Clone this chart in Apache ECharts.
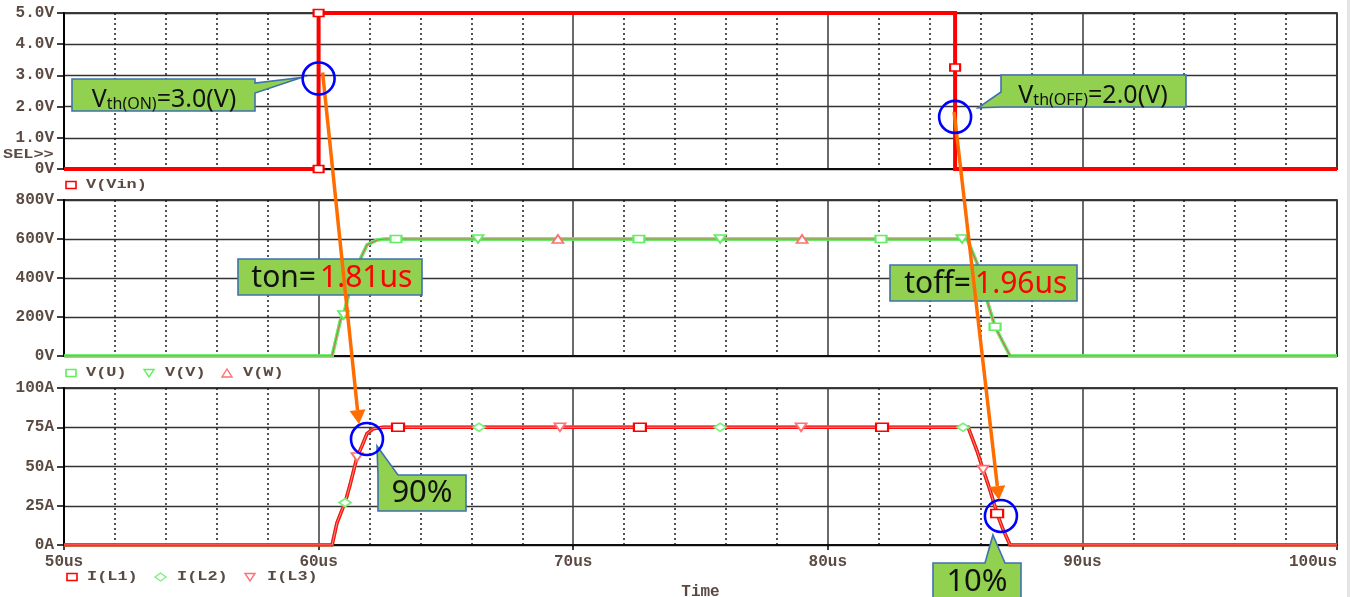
<!DOCTYPE html>
<html>
<head>
<meta charset="utf-8">
<script src="https://cdn.jsdelivr.net/npm/echarts@6/dist/echarts.min.js"></script>
<style>
  html, body { margin: 0; padding: 0; background: #ffffff; }
  #chart { width: 1350px; height: 597px; }
</style>
</head>
<body>
<div id="chart"></div>
<script>
// ---- time axis (us) ----
const timeTickLabels = ['50us', '60us', '70us', '80us', '90us', '100us'];

// ---- gate input V(Vin) ----
const vinTime = [50, 60, 60, 85, 85, 85, 100];
const vinVolt = [0, 0, 5, 5, 3.25, 0, 0];
const vinMarkIdx = [1, 2, 4];
const vinTickLabels = ['0V', '1.0V', '2.0V', '3.0V', '4.0V', '5.0V'];

// ---- phase voltages V(U), V(V), V(W) (coincident waveforms) ----
const phaseTime = [50, 60.53, 60.86, 60.98, 61.23, 61.62, 61.9, 62.3, 62.6, 63.04, 66.26, 69.4,
                   72.58, 75.77, 78.99, 82.09, 85.27, 85.47, 85.86, 86.25, 86.57, 87.16, 100];
const phaseVolt = [0, 0, 185, 210, 340, 492, 570, 595, 600, 600, 600, 600,
                   600, 600, 600, 600, 600, 600, 477, 287, 150, 0, 0];
const vuMarkTimes = [63.04, 72.58, 82.09, 86.57];
const vvMarkTimes = [60.98, 66.26, 75.77, 85.27];
const vwMarkTimes = [69.4, 78.99];
const phaseTickLabels = ['0V', '200V', '400V', '600V', '800V'];

// ---- load currents I(L1), I(L2), I(L3) ----
const currTime = [50, 60.53, 60.72, 60.96, 61.04, 61.23, 61.51, 61.70, 61.90, 62.14, 62.53, 63.12, 66.30,
                  69.48, 72.62, 75.77, 78.95, 82.13, 85.31, 85.51, 85.86, 86.10, 86.37, 86.65, 86.88, 87.16, 100];
const currAmp  = [0, 0, 14, 24, 27, 38, 56, 63, 71, 74, 75, 75, 75,
                  75, 75, 75, 75, 75, 75, 75, 60, 48, 35, 20, 10, 0, 0];
const il1MarkTimes = [63.12, 72.62, 82.13, 86.65];
const il2MarkTimes = [61.04, 66.30, 75.77, 85.31];
const il3MarkTimes = [61.51, 69.48, 78.95, 86.10];
const currTickLabels = ['0A', '25A', '50A', '75A', '100A'];

// ---- annotation anchors (data coordinates) ----
const onAnchor = [60, 2.9];      // Vth(ON) crossing, top panel
const offAnchor = [85, 1.67];    // Vth(OFF) crossing, top panel
const riseAnchor = [61.9, 67.5]; // 90% point, current panel
const fallAnchor = [86.8, 18.5]; // 10% point, current panel

const AX_FONT = '"Liberation Mono", "DejaVu Sans Mono", monospace';
const AX_COLOR = '#5a4a42';
const BOX_FONT = '"Noto Sans", "Open Sans", sans-serif';
const RED = '#ff0000';
const GREEN = '#62ee62';
const PINK = '#ff7070';

const chart = echarts.init(document.getElementById('chart'), null, { renderer: 'canvas' });

const panelBoxes = [
  { top: 13, height: 156 },
  { top: 200, height: 156 },
  { top: 388, height: 157 }
];

function makeGrid(p) {
  return { left: 64, width: 1273, top: p.top, height: p.height, show: true,
           borderColor: '#000', borderWidth: 1.5, backgroundColor: 'transparent',
           containLabel: false, outerBoundsMode: 'none' };
}

function makeX(i, bottom) {
  return {
    type: 'value', gridIndex: i, min: 50, max: 100, interval: 10,
    axisLine: { show: true, onZero: false, lineStyle: { color: '#000', width: 1.5 } },
    axisTick: { show: bottom, length: 5, lineStyle: { color: '#000', width: 1.5 } },
    axisLabel: { show: bottom, formatter: (v, idx) => timeTickLabels[idx], margin: 9,
                 alignMaxLabel: 'right',
                 fontFamily: AX_FONT, fontSize: 16, fontWeight: 'bold', color: AX_COLOR },
    splitLine: { show: true, lineStyle: { color: '#3a3a3a', width: 1.5 } },
    minorTick: { show: false, splitNumber: 5 },
    minorSplitLine: { show: true, lineStyle: { color: '#1a1a1a', width: 1.5, type: [2, 3] } },
    name: bottom ? 'Time' : '', nameLocation: 'middle', nameGap: 39,
    nameTextStyle: { fontFamily: AX_FONT, fontSize: 16, fontWeight: 'bold', color: AX_COLOR }
  };
}

function makeY(i, max, step, labels) {
  return {
    type: 'value', gridIndex: i, min: 0, max: max, interval: step,
    axisLine: { show: true, lineStyle: { color: '#000', width: 2 } },
    axisTick: { show: true, length: 7, lineStyle: { color: '#000', width: 1.5 } },
    axisLabel: { formatter: (v, idx) => labels[idx], margin: 10,
                 fontFamily: AX_FONT, fontSize: 16, fontWeight: 'bold', color: AX_COLOR },
    splitLine: { show: true, lineStyle: { color: '#333', width: 1.3 } }
  };
}

function trace(name, g, times, vals, color, width, z) {
  return {
    name: name, type: 'line', xAxisIndex: g, yAxisIndex: g, z: z,
    data: times.map((t, i) => [t, vals[i]]),
    symbol: 'none', lineStyle: { color: color, width: width, cap: 'butt', join: 'miter' },
    silent: true, animation: false
  };
}

function markers(g, times, vals, idxList, symbol, size, rotate, color, z) {
  return {
    type: 'scatter', xAxisIndex: g, yAxisIndex: g, z: z,
    data: idxList.map(i => [times[i], vals[i]]),
    symbol: symbol, symbolSize: size, symbolRotate: rotate,
    itemStyle: { color: '#ffffff', borderColor: color, borderWidth: 1.8, opacity: 1 },
    silent: true, animation: false
  };
}

const idxOf = (times, list) => list.map(t => times.indexOf(t));

const option = {
  animation: false,
  backgroundColor: '#ffffff',
  grid: panelBoxes.map(makeGrid),
  xAxis: [makeX(0, false), makeX(1, false), makeX(2, true)],
  yAxis: [makeY(0, 5, 1, vinTickLabels), makeY(1, 800, 200, phaseTickLabels), makeY(2, 100, 25, currTickLabels)],
  series: [
    trace('V(Vin)', 0, vinTime, vinVolt, RED, 4, 3),
    markers(0, vinTime, vinVolt, vinMarkIdx, 'rect', [10, 7], 0, RED, 5),

    trace('V(U)', 1, phaseTime, phaseVolt, GREEN, 3.5, 3),
    trace('V(V)', 1, phaseTime, phaseVolt, GREEN, 3, 3),
    trace('V(W)', 1, phaseTime, phaseVolt, '#c8705a', 1.2, 4),
    markers(1, phaseTime, phaseVolt, idxOf(phaseTime, vuMarkTimes), 'rect', [11, 7], 0, GREEN, 6),
    markers(1, phaseTime, phaseVolt, idxOf(phaseTime, vvMarkTimes), 'triangle', [11, 8], 180, GREEN, 6),
    markers(1, phaseTime, phaseVolt, idxOf(phaseTime, vwMarkTimes), 'triangle', [11, 8], 0, PINK, 6),

    trace('I(L2)', 2, currTime, currAmp, GREEN, 3.5, 3),
    trace('I(L1)', 2, currTime, currAmp, '#ff1010', 3.5, 3),
    trace('I(L3)', 2, currTime, currAmp, '#ff8a8a', 1, 4),
    markers(2, currTime, currAmp, idxOf(currTime, il1MarkTimes), 'rect', [12, 8], 0, RED, 6),
    markers(2, currTime, currAmp, idxOf(currTime, il2MarkTimes), 'diamond', [12, 8], 0, '#7cf07c', 6),
    markers(2, currTime, currAmp, idxOf(currTime, il3MarkTimes), 'triangle', [11, 8], 180, PINK, 6)
  ]
};

chart.setOption(option);

// ---- legends, labels and callouts ----
const px = (g, p) => chart.convertToPixel({ gridIndex: g }, p);
const c1 = px(0, onAnchor), c2 = px(0, offAnchor), c3 = px(2, riseAnchor), c4 = px(2, fallAnchor);

const els = [];
const legendFont = 'bold 13px "Liberation Mono", "DejaVu Sans Mono", monospace';

function legendText(x, y, text) {
  els.push({ type: 'text', x: x, y: y, scaleX: 1.3, z: 50,
             style: { text: text, font: legendFont, fill: AX_COLOR, verticalAlign: 'middle', align: 'left' } });
}
function legendRect(x, y, color) {
  els.push({ type: 'rect', z: 50, shape: { x: x, y: y - 3.5, width: 10, height: 7 },
             style: { fill: '#fff', stroke: color, lineWidth: 1.6 } });
}
function legendTri(x, y, color, down) {
  const pts = down ? [[x, y - 3.5], [x + 10, y - 3.5], [x + 5, y + 4]] : [[x, y + 4], [x + 10, y + 4], [x + 5, y - 4]];
  els.push({ type: 'polygon', z: 50, shape: { points: pts }, style: { fill: '#fff', stroke: color, lineWidth: 1.4 } });
}
function legendDiamond(x, y, color) {
  els.push({ type: 'polygon', z: 50, shape: { points: [[x, y], [x + 5.5, y - 4], [x + 11, y], [x + 5.5, y + 4]] },
             style: { fill: '#fff', stroke: color, lineWidth: 1.4 } });
}

legendRect(66, 185, RED); legendText(86, 185, 'V(Vin)');
legendRect(66, 373, GREEN); legendText(86, 373, 'V(U)');
legendTri(144, 373, GREEN, true); legendText(165, 373, 'V(V)');
legendTri(222, 373, PINK, false); legendText(243, 373, 'V(W)');
legendRect(67, 577, RED); legendText(87, 577, 'I(L1)');
legendDiamond(155, 577, '#7cf07c'); legendText(177, 577, 'I(L2)');
legendTri(245, 577, PINK, true); legendText(267, 577, 'I(L3)');
legendText(3, 155, 'SEL>>');

// page edge strip
els.push({ type: 'rect', z: 1, shape: { x: 1347, y: 0, width: 3, height: 597 }, style: { fill: '#e4e4e4' } });

const BOX_FILL = '#92d050', BOX_EDGE = '#3f72af';
function callout(points) {
  els.push({ type: 'polygon', z: 100, shape: { points: points },
             style: { fill: BOX_FILL, stroke: BOX_EDGE, lineWidth: 1.6 } });
}
function plainText(x, y, text, size, color, align) {
  els.push({ type: 'text', x: x, y: y, z: 101,
             style: { text: text, align: align, verticalAlign: 'middle',
                      font: size + 'px ' + BOX_FONT, fill: color } });
}
function richText(x, y, text, rich) {
  els.push({ type: 'text', x: x, y: y, z: 101,
             style: { text: text, align: 'center', verticalAlign: 'middle', rich: rich,
                      font: '25px ' + BOX_FONT, fill: '#111' } });
}
const thRich = {
  b: { fontSize: 25, fontFamily: BOX_FONT, fill: '#111', verticalAlign: 'bottom', lineHeight: 30 },
  s: { fontSize: 16, fontFamily: BOX_FONT, fill: '#111', verticalAlign: 'bottom', lineHeight: 22 }
};

// Vth(ON)
callout([[72, 79], [255, 79], [255, 83], [c1[0] - 17, c1[1] - 1], [255, 93], [255, 111], [72, 111]]);
richText(164, 97, '{b|V}{s|th(ON)}{b|=3.0(V)}', thRich);
// Vth(OFF)
callout([[1001, 75], [1186, 75], [1186, 107], [1001, 107], [c2[0] + 23, c2[1] - 9], [1001, 92]]);
richText(1093, 93, '{b|V}{s|th(OFF)}{b|=2.0(V)}', thRich);
// ton / toff
callout([[238, 259], [422, 259], [422, 295], [238, 295]]);
plainText(316, 278, 'ton=', 30, '#111', 'right');
plainText(320, 278, '1.81us', 30, RED, 'left');
callout([[890, 265], [1077, 265], [1077, 301], [890, 301]]);
plainText(971, 284, 'toff=', 30, '#111', 'right');
plainText(975, 284, '1.96us', 30, RED, 'left');
// 90% / 10%
callout([[c3[0] + 10, c3[1] + 7], [398, 475], [466, 475], [466, 511], [378, 511], [378, 475]]);
plainText(422, 493, '90%', 31, '#111', 'center');
callout([[933, 563], [985, 563], [c4[0] - 8, c4[1] + 19], [1005, 563], [1021, 563], [1021, 600], [933, 600]]);
plainText(977, 582, '10%', 31, '#111', 'center');

// orange arrows
const ORANGE = '#ff6d00';
function arrow(from, to) {
  const dx = to[0] - from[0], dy = to[1] - from[1], len = Math.hypot(dx, dy);
  const ux = dx / len, uy = dy / len, headLen = 14, half = 8;
  const base = [to[0] - ux * headLen, to[1] - uy * headLen];
  els.push({ type: 'line', z: 110, shape: { x1: from[0], y1: from[1], x2: base[0], y2: base[1] },
             style: { stroke: ORANGE, lineWidth: 3.5 } });
  els.push({ type: 'polygon', z: 110,
             shape: { points: [to, [base[0] - uy * half, base[1] + ux * half], [base[0] + uy * half, base[1] - ux * half]] },
             style: { fill: ORANGE } });
}
arrow([c1[0] + 4, c1[1] - 6], [c3[0] - 8, c3[1] - 15]);
arrow([c2[0] - 1, c2[1] - 5], [c4[0] - 2, c4[1] - 16]);

// blue rings
[c1, c2, c3, c4].forEach(c => {
  els.push({ type: 'circle', z: 120, shape: { cx: c[0], cy: c[1], r: 16 },
             style: { fill: 'none', stroke: '#0000ff', lineWidth: 2.6 } });
});

chart.setOption({ graphic: { elements: els } });
</script>
</body>
</html>
